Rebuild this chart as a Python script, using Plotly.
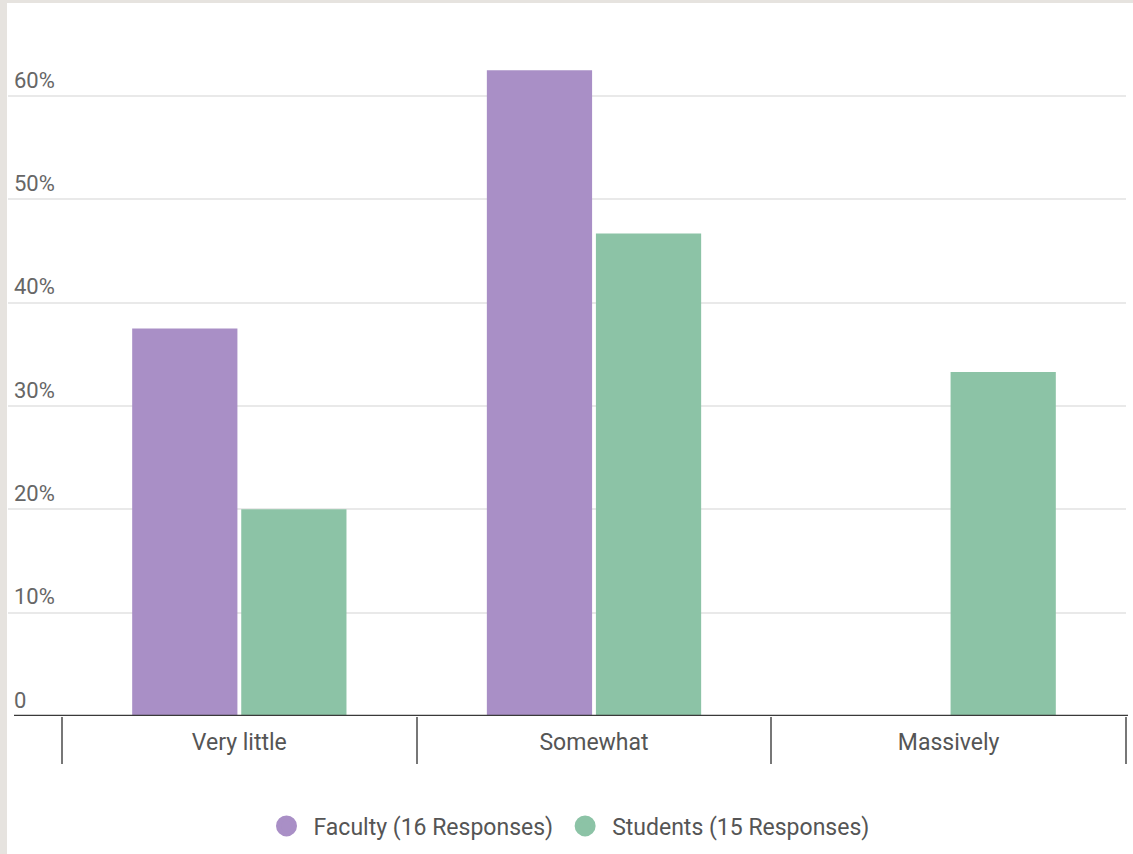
import plotly.graph_objects as go

categories = ["Very little", "Somewhat", "Massively"]
faculty = [37.5, 62.5, 0.0]
students = [20.0, 46.7, 33.3]
series_names = ["Faculty (16 Responses)", "Students (15 Responses)"]
y_tickvals = [0, 10, 20, 30, 40, 50, 60]
y_ticktext = ["0", "10%", "20%", "30%", "40%", "50%", "60%"]

PURPLE = "#a98fc6"
GREEN = "#8cc3a6"

W, H = 1133, 854
L, R, T, B = 8, 7, 40, 138
pw = W - L - R
ph = H - T - B

fig = go.Figure()
fig.add_trace(go.Bar(x=categories, y=faculty, name=series_names[0],
                     marker=dict(color=PURPLE, line=dict(width=0)), showlegend=False))
fig.add_trace(go.Bar(x=categories, y=students, name=series_names[1],
                     marker=dict(color=GREEN, line=dict(width=0)), showlegend=False))
# legend entries as circles
fig.add_trace(go.Scatter(x=[None], y=[None], mode="markers", name=series_names[0],
                         marker=dict(color=PURPLE, size=24, symbol="circle",
                                     line=dict(color=PURPLE, width=5))))
fig.add_trace(go.Scatter(x=[None], y=[None], mode="markers", name=series_names[1],
                         marker=dict(color=GREEN, size=24, symbol="circle",
                                     line=dict(color=GREEN, width=5))))

left_units = (62 - L) / ((1126 - 62) / 3)
px_per_pct = (716 - 96) / 60.0
ymax = (716 - T) / px_per_pct

fig.update_layout(
    width=W, height=H,
    margin=dict(l=L, r=R, t=T, b=B),
    paper_bgcolor="white",
    plot_bgcolor="white",
    barmode="group",
    bargap=0.385,
    bargroupgap=0.035,
    font=dict(family="Roboto, sans-serif", color="#555555"),
    xaxis=dict(
        type="category",
        range=[-0.5 - left_units, 2.5],
        tickson="boundaries",
        ticks="outside", ticklen=47, tickwidth=1.5, tickcolor="#777777",
        ticklabelstandoff=10,
        showgrid=False, showline=False, zeroline=False,
        tickfont=dict(size=23, color="#555555"),
        fixedrange=True,
    ),
    yaxis=dict(
        range=[0, ymax],
        tickvals=y_tickvals, ticktext=y_ticktext,
        ticklabelposition="inside",
        ticklabelshift=-16,
        ticklabelstandoff=3,
        tickfont=dict(size=22, color="#666666"),
        showgrid=True, gridcolor="#e9e9e9", gridwidth=1.5,
        zeroline=False, showline=False, ticks="",
    ),
    legend=dict(
        orientation="h", x=0.5, xanchor="center",
        y=-(826 - 716) / ph, yanchor="middle",
        font=dict(size=23, color="#555555"),
        itemsizing="trace",
        itemwidth=44,
    ),
    shapes=[
        dict(type="line", xref="paper", yref="y",
             x0=(14 - L) / pw, x1=(1128 - L) / pw, y0=0, y1=0,
             line=dict(color="#3a3a3a", width=2.5), layer="above"),
        dict(type="rect", xref="paper", yref="paper",
             x0=-L / pw, x1=(7 - L) / pw, y0=-B / ph, y1=(716 - 0 + 2) / ph,
             fillcolor="#e6e3df", line=dict(width=0), layer="below"),
        dict(type="rect", xref="paper", yref="paper",
             x0=-L / pw, x1=(W - L) / pw, y0=(716 - 3) / ph, y1=(716 + 2) / ph,
             fillcolor="#e6e3df", line=dict(width=0), layer="below"),
    ],
)

fig.write_html("out.html", config={"displayModeBar": False},
               post_script="document.body.style.margin='0';")
